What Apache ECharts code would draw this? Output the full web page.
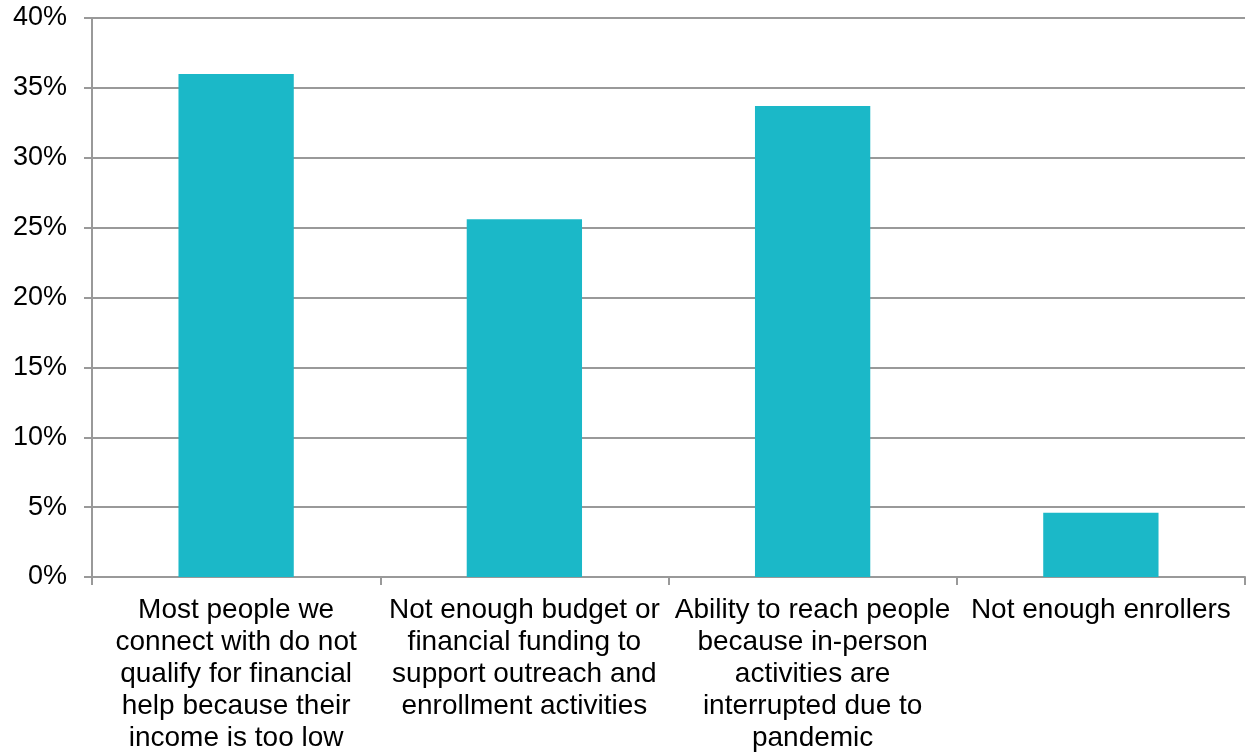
<!DOCTYPE html>
<html lang="en">
<head>
    <meta charset="UTF-8">
    <title>Chart</title>
    <script src="https://cdn.jsdelivr.net/npm/echarts@6/dist/echarts.min.js"></script>
    <style>
        html, body { margin: 0; padding: 0; background: #fff; }
        #main { width: 1251px; height: 754px; }
    </style>
</head>
<body>
<div id="main"></div>
<script>
    var categories = [
        'Most people we\nconnect with do not\nqualify for financial\nhelp because their\nincome is too low',
        'Not enough budget or\nfinancial funding to\nsupport outreach and\nenrollment activities',
        'Ability to reach people\nbecause in-person\nactivities are\ninterrupted due to\npandemic',
        'Not enough enrollers'
    ];
    var values = [36.0, 25.6, 33.7, 4.6];

    var myChart = echarts.init(document.getElementById('main'));
    var option = {
        animation: false,
        grid: { left: 92, right: 6, top: 18, bottom: 176 },
        xAxis: {
            type: 'category',
            data: categories,
            axisLine: { lineStyle: { color: '#999', width: 2 } },
            axisTick: { show: true, length: 8, lineStyle: { color: '#999', width: 2 } },
            axisLabel: {
                interval: 0,
                color: '#000',
                fontFamily: 'Liberation Sans',
                fontSize: 28,
                lineHeight: 32,
                margin: 17
            }
        },
        yAxis: {
            type: 'value',
            min: 0,
            max: 40,
            interval: 5,
            axisLine: { show: true, lineStyle: { color: '#999', width: 2 } },
            axisTick: { show: true, length: 8, lineStyle: { color: '#999', width: 2 } },
            splitLine: { lineStyle: { color: '#999', width: 2 } },
            axisLabel: {
                formatter: '{value}%',
                color: '#000',
                fontFamily: 'Liberation Sans',
                fontSize: 27,
                margin: 25
            }
        },
        series: [{
            type: 'bar',
            data: values,
            barWidth: '40%',
            itemStyle: { color: '#1BB8C8' }
        }]
    };
    myChart.setOption(option);
</script>
</body>
</html>
